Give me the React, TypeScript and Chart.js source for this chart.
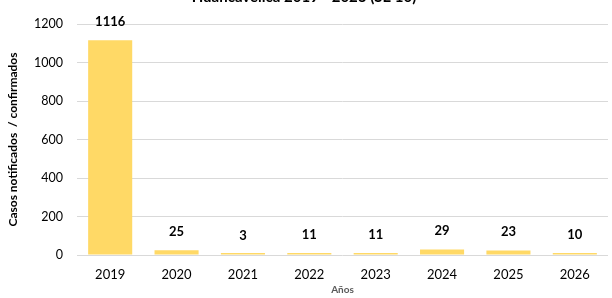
import React, { useEffect, useRef } from "react";
import { Chart, registerables } from "chart.js";

Chart.register(...registerables);

const title = "Huancavelica 2019 - 2026 (SE 10)";
const years = ["2019", "2020", "2021", "2022", "2023", "2024", "2025", "2026"];
const cases = [1116, 25, 3, 11, 11, 29, 23, 10];
const yTicks = [0, 200, 400, 600, 800, 1000, 1200];
const yAxisTitle = "Casos notificados  / confirmados";
const xAxisTitle = "Años";

const FONT = "Lato, 'Open Sans', sans-serif";

const overlay = {
  id: "overlay",
  afterDatasetsDraw(chart: any) {
    const { ctx, chartArea } = chart;
    const meta = chart.getDatasetMeta(0);
    ctx.save();
    ctx.fillStyle = "#000";
    ctx.font = `bold 13px ${FONT}`;
    ctx.textAlign = "center";
    ctx.textBaseline = "middle";
    meta.data.forEach((bar: any, i: number) => {
      const yTop = chart.scales.y.getPixelForValue(cases[i]);
      ctx.fillText(String(cases[i]), bar.x, yTop - 18.5);
    });
    // main title (mostly cut off at top)
    ctx.font = `bold 15px ${FONT}`;
    ctx.textBaseline = "bottom";
    ctx.fillText(title, 304, 5);
    // y axis title
    ctx.save();
    ctx.translate(13, (chartArea.top + chartArea.bottom) / 2);
    ctx.rotate(-Math.PI / 2);
    ctx.font = `bold 12px ${FONT}`;
    ctx.textBaseline = "middle";
    ctx.fillText(yAxisTitle, 0, 0);
    ctx.restore();
    // x axis title
    ctx.font = `bold 10px ${FONT}`;
    ctx.fillStyle = "#595959";
    ctx.textBaseline = "middle";
    ctx.fillText(xAxisTitle, (chartArea.left + chartArea.right) / 2, 290);
    ctx.restore();
  },
};

export default function App() {
  const ref = useRef<HTMLCanvasElement>(null);
  useEffect(() => {
    document.body.style.margin = "0";
    const chart = new Chart(ref.current!, {
      type: "bar",
      data: {
        labels: years,
        datasets: [
          {
            data: cases,
            backgroundColor: "#FFD966",
            barPercentage: 0.664,
            categoryPercentage: 1,
            minBarLength: 2,
          },
        ],
      },
      options: {
        animation: false,
        responsive: false,
        maintainAspectRatio: false,
        layout: { padding: { left: 0, right: 4, top: 24, bottom: 0 } },
        plugins: {
          legend: { display: false },
          tooltip: { enabled: false },
          title: { display: false },
        },
        scales: {
          x: {
            grid: { display: false },
            border: { display: false },
            ticks: {
              color: "#000",
              font: { family: FONT, size: 13 },
              padding: 4,
              maxRotation: 0,
            },
            afterFit(scale: any) {
              scale.height = 43;
            },
          },
          y: {
            min: 0,
            max: 1200,
            afterBuildTicks(scale: any) {
              scale.ticks = yTicks.map((v) => ({ value: v }));
            },
            grid: { color: "#D9D9D9", drawTicks: false, lineWidth: 1 },
            border: { display: false },
            ticks: {
              color: "#000",
              font: { family: FONT, size: 12.5 },
              padding: 14,
              callback: (v: any) => String(v),
            },
            afterFit(scale: any) {
              scale.width = 77;
            },
          },
        },
      },
      plugins: [overlay],
    });
    return () => chart.destroy();
  }, []);
  return (
    <div style={{ position: "fixed", left: 0, top: 0, width: 612, height: 298 }}>
      <canvas ref={ref} width={612} height={298} style={{ width: 612, height: 298 }} />
    </div>
  );
}
